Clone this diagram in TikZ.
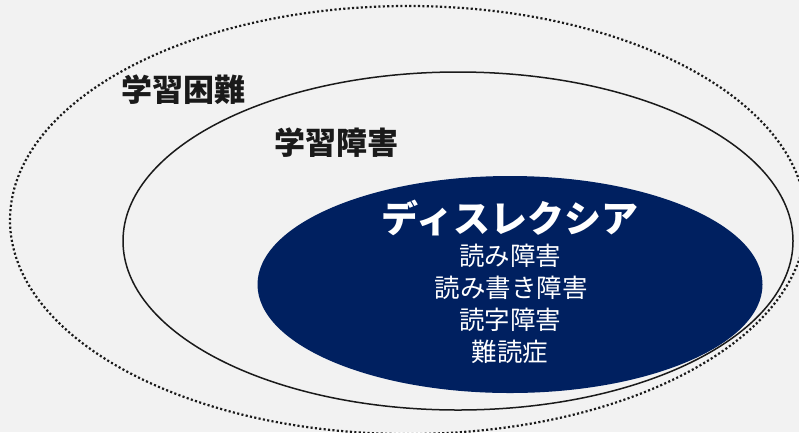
\documentclass[tikz,border=0pt]{standalone}
\usepackage{fontspec}
\setmainfont{Noto Sans CJK JP}
\usetikzlibrary{shapes.geometric}
\definecolor{bg}{HTML}{F2F2F2}
\definecolor{navy}{HTML}{002060}
\definecolor{ink}{HTML}{1A1A1A}
\tikzset{
  ring/.style={ellipse, inner sep=0pt, outer sep=0pt},
  dotring/.style={ring, draw=ink, line width=2.2pt, dash pattern=on 2.1pt off 2.3pt},
  solidring/.style={ring, draw=ink, line width=1.5pt},
  corering/.style={ring, fill=navy},
  heading/.style={text=ink, font=\fontsize{31}{36}\selectfont\bfseries, inner sep=0pt},
  coretitle/.style={text=white, font=\fontsize{37}{42}\selectfont\bfseries, inner sep=0pt},
  coreitem/.style={text=white, font=\fontsize{25.5}{30}\selectfont, inner sep=0pt},
}
\begin{document}
\begin{tikzpicture}[x=1pt, y=-1pt]
\useasboundingbox (0,0) rectangle (799,432);
\clip (0,0) rectangle (799,432);
\fill[bg] (0,0) rectangle (799,432);
\node[dotring, minimum width=796pt, minimum height=428pt] (outer) at (408,220) {};
\node[solidring, minimum width=670pt, minimum height=338pt] (mid) at (458,241) {};
\node[corering, minimum width=505pt, minimum height=217pt] (core) at (510,284.5) {};
\node[heading] (l1) at (183,90) {学習困難};
\node[heading] (l2) at (336,143) {学習障害};
\node[coretitle] (t) at (510,218) {ディスレクシア};
\node[coreitem] (i1) at (510,256) {読み障害};
\node[coreitem] (i2) at (511,288) {読み書き障害};
\node[coreitem] (i3) at (510,320) {読字障害};
\node[coreitem] (i4) at (510,352) {難読症};
\end{tikzpicture}
\end{document}
